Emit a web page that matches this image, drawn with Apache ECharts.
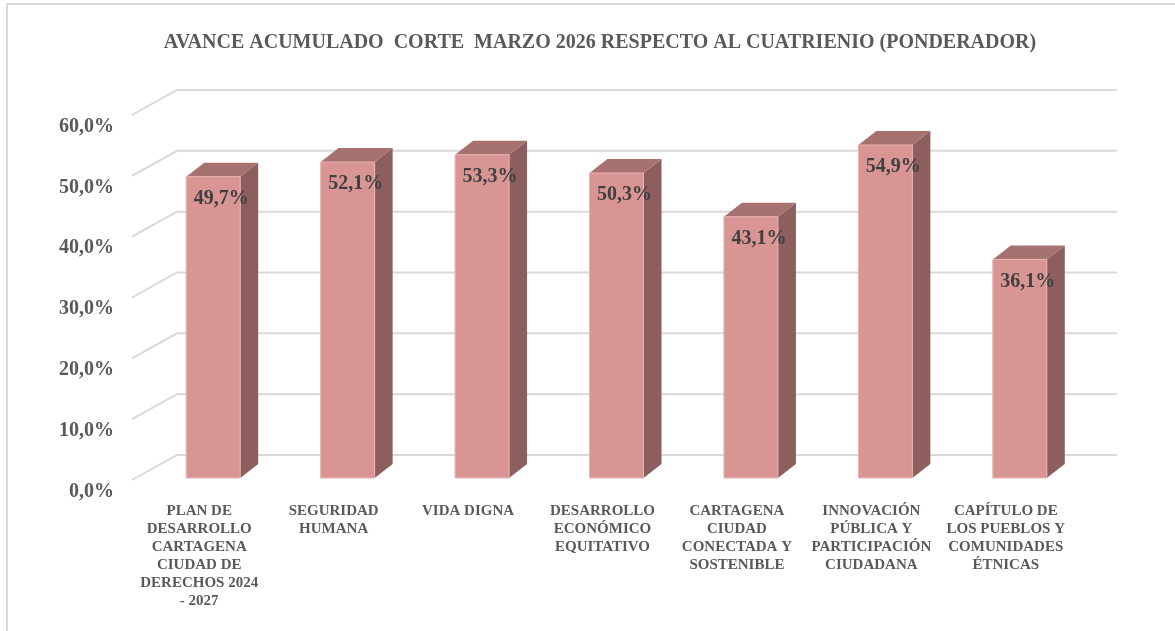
<!DOCTYPE html>
<html>
<head>
<meta charset="utf-8">
<script src="https://cdn.jsdelivr.net/npm/echarts@6/dist/echarts.min.js"></script>
<style>
  html, body { margin: 0; padding: 0; background: #fff; }
  #main { width: 1175px; height: 631px; }
</style>
</head>
<body>
<div id="main"></div>
<script>
var categories = [
  'PLAN DE\nDESARROLLO\nCARTAGENA\nCIUDAD DE\nDERECHOS 2024\n- 2027',
  'SEGURIDAD\nHUMANA',
  'VIDA DIGNA',
  'DESARROLLO\nECONÓMICO\nEQUITATIVO',
  'CARTAGENA\nCIUDAD\nCONECTADA Y\nSOSTENIBLE',
  'INNOVACIÓN\nPÚBLICA Y\nPARTICIPACIÓN\nCIUDADANA',
  'CAPÍTULO DE\nLOS PUEBLOS Y\nCOMUNIDADES\nÉTNICAS'
];
var avance = [49.7, 52.1, 53.3, 50.3, 43.1, 54.9, 36.1];
var yTicks = [0, 10, 20, 30, 40, 50, 60];

var chart = echarts.init(document.getElementById('main'));
var FONT = '"Liberation Serif", "DejaVu Serif", serif';
var plotLeft = 146;
var depthX = 18, depthY = 14;   // profundidad de la barra
var wallX = 45, wallY = 25;     // profundidad de la pared

function fmt(v) {
  return v.toFixed(1).replace('.', ',') + '%';
}

var option = {
  animation: false,
  backgroundColor: '#fff',
  title: {
    text: 'AVANCE ACUMULADO  CORTE  MARZO 2026 RESPECTO AL CUATRIENIO (PONDERADOR)',
    left: 595,
    top: 28,
    textAlign: 'center',
    textStyle: { fontFamily: FONT, fontSize: 20, fontWeight: 'bold', color: '#595959' }
  },
  graphic: [{
    type: 'rect',
    shape: { x: 7, y: 4, width: 1200, height: 700 },
    style: { fill: null, stroke: '#D9D9D9', lineWidth: 2 },
    silent: true
  }],
  grid: { left: plotLeft, right: 88, top: 114, bottom: 152 },
  xAxis: {
    type: 'category',
    data: categories,
    axisLine: { show: false },
    axisTick: { show: false },
    axisLabel: {
      interval: 0,
      margin: 23,
      padding: [0, 28, 0, 0],
      fontFamily: FONT, fontSize: 15, fontWeight: 'bold', color: '#595959',
      lineHeight: 18
    }
  },
  yAxis: {
    type: 'value',
    min: 0, max: 60, interval: 10,
    splitLine: { show: false },
    axisLine: { show: false },
    axisTick: { show: false },
    axisLabel: {
      margin: 32,
      verticalAlign: 'top',
      lineHeight: 25,
      formatter: function (v) { return fmt(v); },
      fontFamily: FONT, fontSize: 20, fontWeight: 'bold', color: '#595959'
    }
  },
  series: [
    {
      type: 'custom',
      z: 1,
      silent: true,
      data: yTicks.map(function (v) { return [0, v]; }),
      renderItem: function (params, api) {
        var p = api.coord([0, api.value(1)]);
        var y = p[1] + 1;
        return {
          type: 'polyline',
          shape: { points: [[plotLeft - 14, y], [plotLeft - 14 + wallX, y - wallY], [1117, y - wallY]] },
          style: { stroke: '#D9D9D9', lineWidth: 2, fill: null }
        };
      }
    },
    {
      type: 'custom',
      z: 5,
      data: avance.map(function (v, i) { return [i, v]; }),
      renderItem: function (params, api) {
        var top = api.coord([api.value(0), api.value(1)]);
        var base = api.coord([api.value(0), 0]);
        var w = 54;
        var x0 = top[0] - w / 2, x1 = top[0] + w / 2;
        var yt = top[1], yb = base[1] - 1;
        return {
          type: 'group',
          children: [
            {
              type: 'polygon',
              shape: { points: [[x1, yt], [x1 + depthX, yt - depthY], [x1 + depthX, yb - depthY], [x1, yb]] },
              style: { fill: '#8C5F5E' }
            },
            {
              type: 'polygon',
              shape: { points: [[x0, yt], [x1, yt], [x1 + depthX, yt - depthY], [x0 + depthX, yt - depthY]] },
              style: { fill: '#A6716F' }
            },
            {
              type: 'rect',
              shape: { x: x0, y: yt, width: w, height: yb - yt },
              style: { fill: '#D99594', stroke: '#E8B4B3', lineWidth: 1 }
            },
            {
              type: 'text',
              x: top[0] + 8,
              y: yt + 22,
              style: {
                text: fmt(api.value(1)),
                align: 'center',
                verticalAlign: 'middle',
                fontFamily: FONT, fontSize: 20, fontWeight: 'bold', fill: '#404040'
              }
            }
          ]
        };
      }
    }
  ]
};
chart.setOption(option);
</script>
</body>
</html>
